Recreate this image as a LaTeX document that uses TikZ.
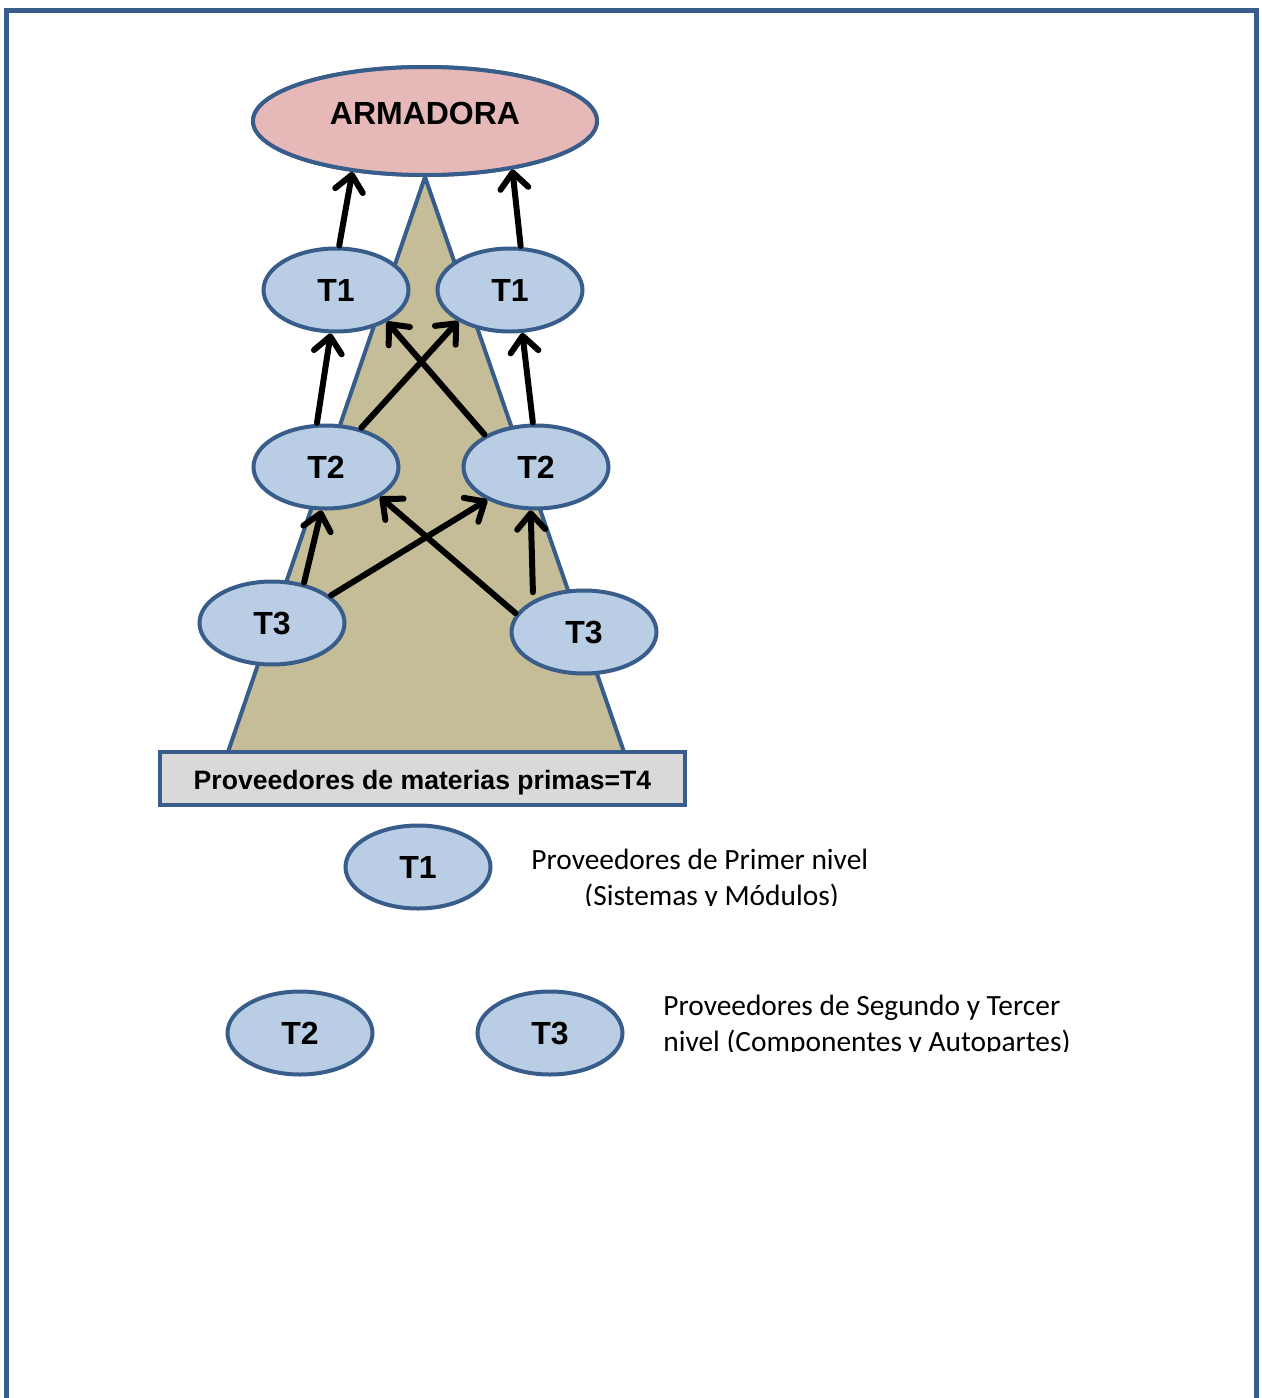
\documentclass[tikz,border=0pt]{standalone}
\usepackage{fontspec}
\setmainfont{Liberation Sans}
\newfontfamily\legendfont{Carlito}
\usetikzlibrary{shapes.geometric,arrows.meta}
\definecolor{edgeblue}{HTML}{385D8A}
\definecolor{tierfill}{HTML}{B9CDE5}
\definecolor{topfill}{HTML}{E6B9B8}
\definecolor{conefill}{HTML}{C4BD97}
\definecolor{basefill}{HTML}{D9D9D9}
\begin{document}
\begin{tikzpicture}[x=0.5pt,y=-0.5pt,
  tier/.style={ellipse,draw=edgeblue,line width=2pt,fill=tierfill,
    minimum width=72.5pt,minimum height=41.5pt,inner sep=0pt,
    font=\bfseries\fontsize{16}{18}\selectfont},
  flow/.style={line width=3pt,line cap=round,
    -{Straight Barb[length=8pt,width=14pt,line cap=round,line join=round]},
    shorten <=0.5pt},
  legendtext/.style={anchor=base west,inner sep=0pt,
    font=\legendfont\fontsize{14.7}{17}\selectfont}]
\clip (0,0) rectangle (1262,1398);
% outer frame (open at the bottom of the page)
\draw[edgeblue,line width=2.5pt] (6.5,1420) -- (6.5,10.5) -- (1256,10.5) -- (1256,1420);

% assembler at the top
\node[ellipse,draw=edgeblue,line width=2pt,fill=topfill,
  minimum width=172pt,minimum height=54pt,inner sep=0pt] (arm) at (425,121) {};
% supplier pyramid
\draw[fill=conefill,draw=edgeblue,line width=2pt,line join=round]
  (arm.south) -- (624,752) -- (228,752) -- cycle;
\node[ellipse,draw=edgeblue,line width=2pt,fill=topfill,
  minimum width=172pt,minimum height=54pt,inner sep=0pt] at (425,121) {};
\node[font=\bfseries\fontsize{16}{18}\selectfont,inner sep=0pt] (armtxt) at (425,113) {ARMADORA};

% raw material base
\node[draw=edgeblue,line width=2pt,fill=basefill,minimum width=262.5pt,
  minimum height=26.5pt,inner sep=0pt,font=\bfseries\fontsize{13.3}{16}\selectfont,
  text depth=0pt,text height=11pt]
  (base) at (422.5,778.5) {Proveedores de materias primas=T4};

% tiers
\node[tier] (t1a) at (336,290) {T1};
\node[tier] (t1b) at (510,290) {T1};
\node[tier] (t2a) at (326,467) {T2};
\node[tier] (t2b) at (536,467) {T2};
\node[tier] (t3a) at (272,623) {T3};
\node[tier] (t3b) at (584,632) {T3};

% supply flows
\draw[flow] (t1a.86)  -- (arm.215);
\draw[flow] (t1b.76)  -- (arm.331);
\draw[flow] (t2a.102) -- (t1a.263);
\draw[flow] (t2a.48)  -- (t1b.211);
\draw[flow] (t2b.148) -- (t1a.328);
\draw[flow] (t2b.94)  -- (t1b.286);
\draw[flow] (t3a.51)  -- (t2a.264);
\draw[flow] (t3a.25)  -- (t2b.214);
\draw[flow] (t3b.165) -- (t2a.331);
\draw[flow,shorten <=4pt] (t3b.148) -- (t2b.263);

% legend
\node[tier] (l1) at (418,867) {T1};
\node[tier] (l2) at (300,1033) {T2};
\node[tier] (l3) at (550,1033) {T3};
\begin{scope}
  \clip (520,830) rectangle (1100,905);
  \node[legendtext] (l1a) at (531,869) {Proveedores de Primer nivel};
  \node[legendtext] (l1b) at (584,905) {(Sistemas y Módulos)};
\end{scope}
\begin{scope}
  \clip (650,975) rectangle (1100,1051);
  \node[legendtext] (l3a) at (663,1015) {Proveedores de Segundo y Tercer};
  \node[legendtext] (l3b) at (663,1051) {nivel (Componentes y Autopartes)};
\end{scope}
\end{tikzpicture}
\end{document}
